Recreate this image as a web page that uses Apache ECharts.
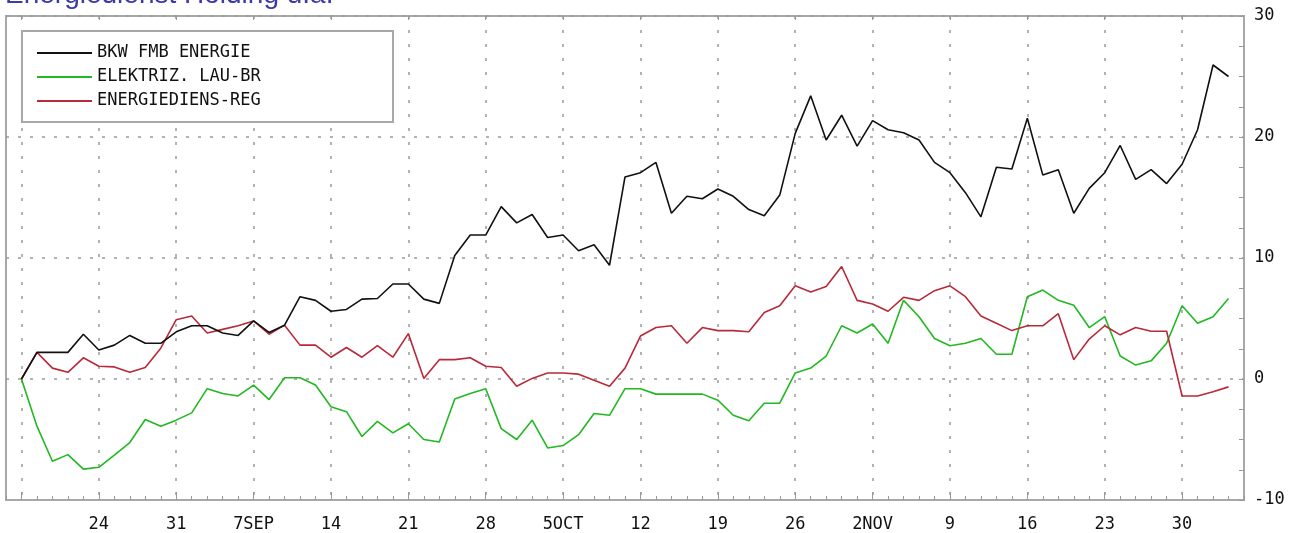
<!DOCTYPE html>
<html>
<head>
<meta charset="utf-8">
<script src="https://cdn.jsdelivr.net/npm/echarts@6/dist/echarts.min.js"></script>
<style>
  html, body { margin: 0; padding: 0; background: #fff; }
  #chart { width: 1294px; height: 533px; }
</style>
</head>
<body>
<div id="chart"></div>
<script>
// trading days, 17 Aug - 3 Dec 2009
const dates = [
  '08-17','08-18','08-19','08-20','08-21','08-24','08-25','08-26','08-27','08-28',
  '08-31','09-01','09-02','09-03','09-04','09-07','09-08','09-09','09-10','09-11',
  '09-14','09-15','09-16','09-17','09-18','09-21','09-22','09-23','09-24','09-25',
  '09-28','09-29','09-30','10-01','10-02','10-05','10-06','10-07','10-08','10-09',
  '10-12','10-13','10-14','10-15','10-16','10-19','10-20','10-21','10-22','10-23',
  '10-26','10-27','10-28','10-29','10-30','11-02','11-03','11-04','11-05','11-06',
  '11-09','11-10','11-11','11-12','11-13','11-16','11-17','11-18','11-19','11-20',
  '11-23','11-24','11-25','11-26','11-27','11-30','12-01','12-02','12-03'
]
// labels shown under each Monday (from the 2nd week on)
const mondayLabels = ['24','31','7SEP','14','21','28','5OCT','12','19','26','2NOV','9','16','23','30']

const bkw = [
  0, 2.2, 2.2, 2.2, 3.7, 2.4, 2.8, 3.6, 2.95, 2.95,
  3.9, 4.4, 4.4, 3.8, 3.6, 4.8, 3.85, 4.45, 6.8, 6.5,
  5.6, 5.75, 6.6, 6.65, 7.85, 7.85, 6.6, 6.25, 10.2, 11.9,
  11.9, 14.25, 12.9, 13.6, 11.7, 11.9, 10.6, 11.1, 9.4, 16.7,
  17.05, 17.9, 13.7, 15.1, 14.9, 15.7, 15.1, 14.0, 13.5, 15.2,
  20.3, 23.4, 19.75, 21.8, 19.25, 21.35, 20.6, 20.35, 19.75, 17.9,
  17.05, 15.4, 13.4, 17.5, 17.35, 21.55, 16.85, 17.3, 13.7, 15.75,
  17.05, 19.3, 16.5, 17.3, 16.15, 17.75, 20.6, 25.95, 25.0
]
const elektriz = [
  0, -3.9, -6.8, -6.25, -7.45, -7.3, -6.3, -5.25, -3.35, -3.9,
  -3.4, -2.8, -0.8, -1.2, -1.4, -0.5, -1.7, 0.1, 0.1, -0.5,
  -2.3, -2.7, -4.75, -3.5, -4.45, -3.7, -5.0, -5.2, -1.65, -1.2,
  -0.8, -4.1, -5.0, -3.4, -5.7, -5.5, -4.6, -2.85, -3.0, -0.8,
  -0.8, -1.25, -1.25, -1.25, -1.25, -1.75, -3.0, -3.45, -2.0, -2.0,
  0.5, 0.9, 1.9, 4.4, 3.8, 4.55, 2.95, 6.5, 5.15, 3.35,
  2.75, 2.95, 3.35, 2.05, 2.05, 6.8, 7.35, 6.5, 6.1, 4.25,
  5.15, 1.9, 1.15, 1.5, 2.95, 6.05, 4.6, 5.15, 6.65
]
const energiedienst = [
  0, 2.2, 0.9, 0.55, 1.75, 1.05, 1.0, 0.55, 0.95, 2.55,
  4.9, 5.2, 3.8, 4.1, 4.4, 4.8, 3.7, 4.45, 2.8, 2.8,
  1.8, 2.6, 1.8, 2.75, 1.8, 3.75, 0.05, 1.6, 1.6, 1.75,
  1.05, 0.95, -0.6, 0.05, 0.5, 0.5, 0.4, -0.1, -0.6, 0.9,
  3.55, 4.25, 4.4, 2.95, 4.25, 4.0, 4.0, 3.9, 5.5, 6.05,
  7.7, 7.2, 7.65, 9.3, 6.5, 6.2, 5.6, 6.75, 6.5, 7.3,
  7.7, 6.8, 5.2, 4.6, 4.0, 4.4, 4.4, 5.4, 1.6, 3.3,
  4.4, 3.65, 4.25, 3.95, 3.95, -1.4, -1.4, -1.05, -0.65
]

// one empty slot at each end so the first/last day sit inside the frame
const categories = [''].concat(dates, [''])
const pad = arr => [null].concat(arr, [null])
const isMonday = i => i >= 1 && (i - 1) % 5 === 0

const font = '"DejaVu Sans Mono", "Liberation Mono", monospace'
const frameColor = '#a8a8a8'

const chart = echarts.init(document.getElementById('chart'))

chart.setOption({
  animation: false,
  backgroundColor: '#fff',
  title: {
    text: 'Energiedienst Holding u.a.',
    left: 0,
    top: -24,
    textStyle: { color: '#3a3aa8', fontSize: 28, fontWeight: 'normal', fontFamily: 'Liberation Sans, sans-serif' }
  },
  legend: {
    orient: 'vertical',
    left: 22,
    top: 31,
    padding: [13, 16, 12, 15],
    borderColor: frameColor,
    borderWidth: 2,
    backgroundColor: '#fff',
    icon: 'rect',
    itemWidth: 55,
    itemHeight: 2,
    itemGap: 6,
    textStyle: { fontFamily: font, fontSize: 17, color: '#111', width: 280, lineHeight: 18 },
    data: ['BKW FMB ENERGIE', 'ELEKTRIZ. LAU-BR', 'ENERGIEDIENS-REG']
  },
  grid: {
    left: 6, right: 50, top: 16, bottom: 33,
    show: true,
    borderColor: frameColor,
    borderWidth: 2
  },
  xAxis: [
    {
      type: 'category',
      position: 'bottom',
      boundaryGap: false,
      data: categories,
      axisLine: { show: true, onZero: false, lineStyle: { color: frameColor, width: 2 } },
      axisTick: { show: true, inside: true, length: 8, interval: isMonday, lineStyle: { color: '#999' } },
      axisLabel: {
        interval: i => isMonday(i) && i > 1,
        margin: 16,
        fontFamily: font,
        fontSize: 17,
        color: '#111',
        formatter: (v, i) => mondayLabels[(i - 1) / 5 - 1] || ''
      },
      splitLine: {
        show: true,
        interval: isMonday,
        lineStyle: { color: '#999', type: [3, 11], width: 1.5 }
      }
    },
    {
      // daily minor ticks along the bottom
      type: 'category',
      position: 'bottom',
      boundaryGap: false,
      data: categories,
      axisLine: { show: false, onZero: false },
      axisTick: { show: true, inside: true, length: 4, interval: 0, lineStyle: { color: '#999' } },
      axisLabel: { show: false },
      splitLine: { show: false }
    },
    {
      // weekly ticks along the top
      type: 'category',
      position: 'top',
      boundaryGap: false,
      data: categories,
      axisLine: { show: false, onZero: false },
      axisTick: { show: true, inside: true, length: 4, interval: isMonday, lineStyle: { color: '#999' } },
      axisLabel: { show: false },
      splitLine: { show: false }
    }
  ],
  yAxis: {
    type: 'value',
    position: 'right',
    min: -10,
    max: 30,
    interval: 10,
    axisLine: { show: true, lineStyle: { color: frameColor, width: 2 } },
    axisTick: { show: true, inside: true, length: 5, lineStyle: { color: '#999' } },
    minorTick: { show: true, splitNumber: 4, length: 5, lineStyle: { color: '#999' } },
    axisLabel: { margin: 10, fontFamily: font, fontSize: 17, color: '#111' },
    splitLine: { show: true, lineStyle: { color: '#999', type: [3, 9], width: 1.5 } }
  },
  series: [
    {
      name: 'BKW FMB ENERGIE',
      type: 'line',
      data: pad(bkw),
      symbol: 'none',
      lineStyle: { color: '#111', width: 1.6 },
      itemStyle: { color: '#111' },
      z: 3
    },
    {
      name: 'ELEKTRIZ. LAU-BR',
      type: 'line',
      data: pad(elektriz),
      symbol: 'none',
      lineStyle: { color: '#22b822', width: 1.6 },
      itemStyle: { color: '#22b822' },
      z: 2
    },
    {
      name: 'ENERGIEDIENS-REG',
      type: 'line',
      data: pad(energiedienst),
      symbol: 'none',
      lineStyle: { color: '#b82a3a', width: 1.6 },
      itemStyle: { color: '#b82a3a' },
      z: 2
    }
  ]
})
</script>
</body>
</html>
